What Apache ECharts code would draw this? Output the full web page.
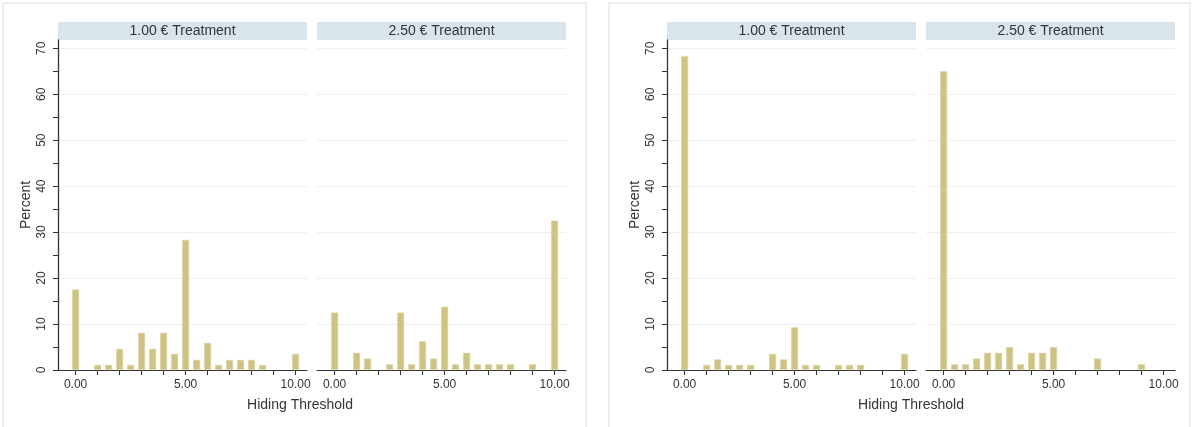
<!DOCTYPE html>
<html>
<head>
<meta charset="utf-8">
<script src="https://cdn.jsdelivr.net/npm/echarts@6/dist/echarts.min.js"></script>
<style>
  html, body { margin: 0; padding: 0; background: #ffffff; }
  #chart { width: 1195px; height: 427px; }
</style>
</head>
<body>
<div id="chart"></div>
<script>
// Histogram bins of the hiding threshold (width 0.50)
const bins = [0, 0.5, 1, 1.5, 2, 2.5, 3, 3.5, 4, 4.5, 5, 5.5, 6, 6.5, 7, 7.5, 8, 8.5, 9, 9.5, 10];

// Percent of subjects per bin, left figure
const leftLow  = [17.5, 0, 1.1, 1.1, 4.6, 1.1, 8.1, 4.6, 8.1, 3.5, 28.3, 2.2, 5.9, 1.1, 2.2, 2.2, 2.2, 1.1, 0, 0, 3.5];
const leftHigh = [12.5, 0, 3.75, 2.5, 0, 1.25, 12.5, 1.25, 6.25, 2.5, 13.75, 1.25, 3.75, 1.25, 1.25, 1.25, 1.25, 0, 1.25, 0, 32.5];

// Percent of subjects per bin, right figure
const rightLow  = [68.3, 0, 1.1, 2.3, 1.1, 1.1, 1.1, 0, 3.5, 2.3, 9.3, 1.1, 1.1, 0, 1.1, 1.1, 1.1, 0, 0, 0, 3.5];
const rightHigh = [65, 1.25, 1.25, 2.5, 3.75, 3.75, 5, 1.25, 3.75, 3.75, 5, 0, 0, 0, 2.5, 0, 0, 0, 1.25, 0, 0];

// Facet titles and axis texts
const facetTitles = ['1.00 € Treatment', '2.50 € Treatment'];
const xTitle = 'Hiding Threshold';
const yTitle = 'Percent';

// Tick values
const xTickValues  = [0, 1, 2, 3, 4, 5, 6, 7, 8, 9, 10];
const xLabelValues = [0, 5, 10];
const yTickValues  = [0, 5, 10, 15, 20, 25, 30, 35, 40, 45, 50, 55, 60, 65, 70];
const yLabelValues = [0, 10, 20, 30, 40, 50, 60, 70];

// ---- layout ----
const FONT = '"Liberation Sans", Arial, sans-serif';
const TEXT = '#333333';
const AXIS = '#333333';
const GRIDC = '#e9f1f3';
const BAR = '#cdc484';
const X_MIN = -0.8, X_MAX = 10.52;
const Y_MAX = 71.8;
const PLOT_TOP = 40, PLOT_H = 330, FACET_W = 249;
const STRIP_TOP = 22, STRIP_H = 18;

const facets = [
  { left: 58,  data: leftLow,   title: facetTitles[0], first: true },
  { left: 317, data: leftHigh,  title: facetTitles[1], first: false },
  { left: 667, data: rightLow,  title: facetTitles[0], first: true },
  { left: 926, data: rightHigh, title: facetTitles[1], first: false }
];

const grid = [], xAxis = [], yAxis = [], series = [], graphic = [];

// light frames around the two figures
[[3, 583], [609, 581]].forEach(([x, w]) => {
  graphic.push({
    type: 'rect', silent: true, z: -10,
    shape: { x: x, y: 3, width: w, height: 440 },
    style: { fill: '#ffffff', stroke: '#e4eaee', lineWidth: 1.5 }
  });
});

facets.forEach((f, i) => {
  grid.push({ left: f.left, top: PLOT_TOP, width: FACET_W, height: PLOT_H, containLabel: false });

  xAxis.push({
    type: 'value', gridIndex: i, min: X_MIN, max: X_MAX,
    axisLine: { show: true, onZero: false, lineStyle: { color: AXIS, width: 1.2 } },
    axisTick: { show: true, customValues: xTickValues, length: 5, lineStyle: { color: AXIS } },
    axisLabel: {
      show: true, customValues: xLabelValues, margin: 9,
      color: TEXT, fontFamily: FONT, fontSize: 12,
      formatter: v => Number(v).toFixed(2)
    },
    splitLine: { show: false }
  });

  // main y axis: line, ticks and labels on the first facet of each figure
  yAxis.push({
    type: 'value', gridIndex: i, min: 0, max: Y_MAX, position: 'left',
    name: f.first ? yTitle : '', nameLocation: 'middle', nameGap: 25,
    nameTextStyle: { color: TEXT, fontFamily: FONT, fontSize: 14 },
    axisLine: { show: f.first, onZero: false, lineStyle: { color: AXIS, width: 1.3 } },
    axisTick: { show: f.first, customValues: yTickValues, length: 5, lineStyle: { color: AXIS } },
    axisLabel: {
      show: f.first, customValues: yLabelValues, rotate: 90, margin: 10,
      color: TEXT, fontFamily: FONT, fontSize: 12
    },
    splitLine: { show: false }
  });
  // companion y axis that only draws the horizontal grid lines
  yAxis.push({
    type: 'value', gridIndex: i, min: 0, max: Y_MAX, interval: 10, position: 'right',
    axisLine: { show: false, onZero: false }, axisTick: { show: false }, axisLabel: { show: false },
    splitLine: { show: true, showMinLine: false, showMaxLine: false, lineStyle: { color: GRIDC, width: 1 } }
  });

  series.push({
    type: 'bar', xAxisIndex: i, yAxisIndex: 2 * i,
    barWidth: 7,
    data: bins.map((b, k) => [b, f.data[k]]).filter(d => d[1] > 0),
    itemStyle: { color: BAR, borderColor: '#ddd6a6', borderWidth: 0.6 },
    silent: true
  });

  // facet strip
  graphic.push({
    type: 'rect', silent: true,
    shape: { x: f.left, y: STRIP_TOP, width: FACET_W, height: STRIP_H },
    style: { fill: '#d9e5eb' }
  });
  graphic.push({
    type: 'text', silent: true,
    x: f.left + FACET_W / 2, y: STRIP_TOP + STRIP_H / 2 + 0.5,
    style: { text: f.title, fill: TEXT, font: '14px ' + FONT, align: 'center', verticalAlign: 'middle' }
  });
});

// x axis titles, one under each figure
[300, 911].forEach(cx => {
  graphic.push({
    type: 'text', silent: true, x: cx, y: 405,
    style: { text: xTitle, fill: TEXT, font: '14px ' + FONT, align: 'center', verticalAlign: 'middle' }
  });
});

const chart = echarts.init(document.getElementById('chart'), null, { renderer: 'canvas' });
chart.setOption({
  backgroundColor: '#ffffff',
  animation: false,
  grid, xAxis, yAxis, series, graphic
});
</script>
</body>
</html>
